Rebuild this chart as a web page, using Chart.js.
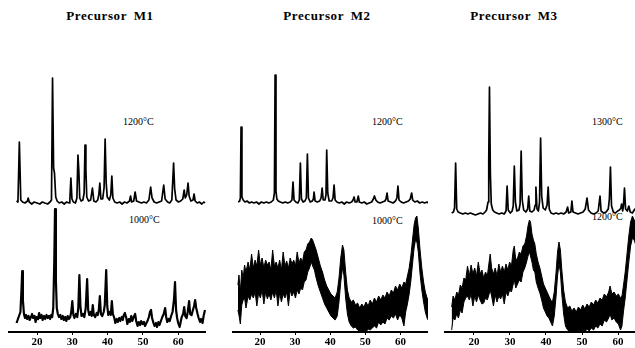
<!DOCTYPE html>
<html>
<head>
<meta charset="utf-8">
<script src="https://cdn.jsdelivr.net/npm/chart.js@4.4.0/dist/chart.umd.min.js"></script>
<style>
  body { margin: 0; background: #fff; }
  #fig { position: relative; width: 635px; height: 348px; overflow: hidden; background: #fff; }
  #fig canvas { position: absolute; top: 0; }
  .ttl { position: absolute; top: 8px; font: bold 13px "Liberation Serif", serif; letter-spacing: 0.6px; word-spacing: 3px; white-space: nowrap; transform: translateX(-50%); }
  .tmp { position: absolute; font: 10px "Liberation Serif", serif; white-space: nowrap; }
</style>
</head>
<body>
<div id="fig">
  <div class="ttl" style="left:110px">Precursor M1</div>
  <div class="ttl" style="left:327px">Precursor M2</div>
  <div class="ttl" style="left:514px">Precursor M3</div>

  <div class="tmp" style="left:123px; top:116px">1200°C</div>
  <div class="tmp" style="left:129px; top:214px">1000°C</div>
  <div class="tmp" style="left:372px; top:116px">1200°C</div>
  <div class="tmp" style="left:372px; top:215px">1000°C</div>
  <div class="tmp" style="left:592px; top:116px">1300°C</div>
  <div class="tmp" style="left:592px; top:211px">1200°C</div>

  <canvas id="m1" width="198" height="348" style="left:8px"></canvas>
  <canvas id="m2" width="196" height="348" style="left:232px"></canvas>
  <canvas id="m3" width="191" height="348" style="left:444px"></canvas>
</div>

<script>
// x-axis labels (2-theta, degrees)
const twoThetaTicks = [20, 30, 40, 50, 60];

// Crystalline patterns: [2theta, counts above baseline]
const m1At1200 = [
  [14.2,2],[14.6,1],[15.0,61],[15.4,3],[15.9,1],[16.6,0],[17.3,2],[17.5,5],[17.8,1],[18.5,-1],
  [19.2,1],[20.0,0],[20.8,-1],[21.5,1],[22.2,0],[23.0,-1],[23.7,1],[24.1,3],[24.4,125],[24.7,35],
  [24.95,30],[25.3,6],[25.7,2],[26.3,0],[27.0,1],[27.7,-1],[28.4,1],[29.1,0],[29.3,3],[29.6,25],
  [29.9,4],[30.3,1],[30.9,0],[31.3,5],[31.6,48],[31.85,32],[32.1,5],[32.5,2],[33.0,3],[33.35,10],
  [33.6,58],[33.85,33],[34.1,6],[34.6,2],[35.2,3],[35.7,15],[36.1,2],[36.7,1],[37.2,3],[37.5,8],
  [37.8,20],[38.1,4],[38.6,4],[39.0,15],[39.3,64],[39.6,20],[39.9,6],[40.5,3],[40.9,8],[41.2,27],
  [41.5,5],[42.0,1],[42.7,0],[43.4,1],[44.1,-1],[44.8,1],[45.5,0],[46.2,2],[46.5,7],[46.8,1],
  [47.4,2],[47.8,11],[48.2,2],[48.9,1],[49.6,0],[50.3,1],[51.0,0],[51.7,3],[52.2,16],[52.6,5],
  [53.2,1],[53.9,0],[54.6,1],[55.3,2],[55.9,18],[56.3,4],[57.0,1],[57.6,0],[58.2,3],[58.5,25],
  [58.7,40],[59.0,14],[59.4,3],[60.1,1],[60.7,2],[61.3,4],[61.7,13],[62.0,5],[62.4,8],[62.8,20],
  [63.1,7],[63.6,2],[64.2,3],[64.5,9],[64.8,2],[65.4,0],[66.0,1],[66.7,-1],[67.3,1],[67.6,0]
];

const m1At1000 = [
  [14.2,-3],[14.5,0],[14.9,4],[15.3,8],[15.6,30],[15.8,49],[16.0,20],[16.3,6],[16.6,2],[16.9,5],
  [17.2,1],[17.6,4],[17.9,0],[18.3,3],[18.6,6],[18.9,2],[19.3,4],[19.6,-2],[19.9,3],[20.3,1],
  [20.6,7],[20.9,2],[21.3,5],[21.6,0],[22.0,4],[22.3,1],[22.7,5],[23.0,2],[23.4,4],[23.7,1],
  [24.0,5],[24.3,3],[24.6,12],[24.9,60],[25.1,111],[25.35,40],[25.6,12],[25.9,6],[26.2,3],[26.6,5],
  [26.9,1],[27.3,4],[27.6,0],[28.0,3],[28.3,-1],[28.7,4],[29.0,1],[29.4,3],[29.7,8],[30.0,19],
  [30.3,5],[30.6,2],[31.0,6],[31.4,3],[31.7,12],[32.0,45],[32.3,14],[32.6,4],[33.0,6],[33.4,3],
  [33.8,12],[34.2,41],[34.5,10],[34.8,5],[35.2,8],[35.5,4],[35.8,15],[36.1,5],[36.5,3],[36.9,7],
  [37.2,5],[37.5,10],[37.8,24],[38.1,6],[38.5,4],[38.9,8],[39.2,15],[39.6,50],[39.9,14],[40.2,5],
  [40.6,8],[40.9,5],[41.2,19],[41.5,6],[41.9,2],[42.2,-3],[42.6,1],[42.9,-2],[43.3,2],[43.6,-1],
  [44.0,3],[44.3,0],[44.6,5],[44.9,7],[45.3,2],[45.6,-4],[46.0,1],[46.3,-2],[46.7,4],[47.0,-1],
  [47.4,3],[47.8,6],[48.1,-1],[48.5,-6],[48.8,-2],[49.2,-5],[49.5,-1],[49.9,-4],[50.3,-2],[50.6,-6],
  [51.0,-3],[51.3,-1],[51.7,3],[52.0,8],[52.3,10],[52.6,2],[53.0,-3],[53.3,-6],[53.7,-3],[54.0,-7],
  [54.4,-2],[54.7,-5],[55.1,-1],[55.5,3],[55.9,6],[56.3,12],[56.6,3],[56.9,-2],[57.3,1],[57.6,-1],
  [58.0,4],[58.4,8],[58.8,20],[59.1,38],[59.4,10],[59.7,2],[60.0,-3],[60.4,-7],[60.7,-2],[61.0,3],
  [61.4,6],[61.7,13],[62.0,4],[62.4,2],[62.7,8],[63.1,19],[63.4,6],[63.8,5],[64.1,9],[64.5,14],
  [64.8,20],[65.1,12],[65.5,6],[65.8,2],[66.2,-2],[66.5,1],[66.9,-3],[67.2,4],[67.6,10]
];

const m2At1200 = [
  [13.8,1],[14.2,2],[14.4,5],[14.6,76],[14.85,6],[15.2,3],[15.7,1],[16.3,2],[17.0,0],[17.6,1],
  [18.3,0],[19.0,1],[19.7,-1],[20.4,1],[21.1,0],[21.8,1],[22.5,0],[23.2,1],[23.8,3],[24.1,10],
  [24.3,128],[24.55,12],[24.8,4],[25.2,2],[25.8,1],[26.5,0],[27.2,1],[27.9,0],[28.6,1],[29.1,3],
  [29.4,21],[29.7,3],[30.2,1],[30.8,0],[31.2,3],[31.5,40],[31.8,4],[32.3,1],[32.8,2],[33.2,5],
  [33.5,49],[33.8,5],[34.3,1],[34.9,2],[35.2,4],[35.4,11],[35.7,2],[36.3,1],[37.0,2],[37.4,5],
  [37.7,15],[38.0,3],[38.5,3],[38.8,8],[39.0,53],[39.3,10],[39.7,2],[40.4,2],[40.8,5],[41.1,18],
  [41.4,3],[41.9,1],[42.6,0],[43.3,1],[44.0,-1],[44.7,1],[45.4,0],[46.1,1],[46.5,3],[46.8,6],
  [47.1,1],[47.6,1],[48.0,7],[48.3,1],[49.0,0],[49.7,1],[50.4,-1],[51.1,0],[51.8,1],[52.3,4],
  [52.6,7],[53.0,3],[53.5,1],[54.2,0],[54.9,1],[55.6,2],[55.9,4],[56.2,10],[56.5,2],[57.2,1],
  [57.9,0],[58.6,2],[59.0,5],[59.3,17],[59.6,3],[60.2,1],[60.9,0],[61.6,1],[62.3,2],[62.8,4],
  [63.2,10],[63.5,3],[64.1,1],[64.8,2],[65.5,0],[66.2,1],[66.9,0],[67.6,1],[68.0,0]
];

const m3At1300 = [
  [13.8,1],[14.3,2],[14.6,6],[14.9,51],[15.2,5],[15.6,2],[16.2,1],[16.9,0],[17.6,1],[18.3,0],
  [19.0,1],[19.7,0],[20.4,-1],[21.1,0],[21.8,1],[22.5,0],[23.1,2],[23.5,4],[23.9,12],[24.1,55],
  [24.3,127],[24.55,40],[24.8,10],[25.2,4],[25.7,2],[26.3,1],[27.0,0],[27.7,1],[28.4,0],[28.9,3],
  [29.2,28],[29.5,4],[30.1,1],[30.6,3],[30.9,8],[31.2,48],[31.5,12],[31.9,3],[32.5,4],[32.8,10],
  [33.1,63],[33.4,14],[33.8,4],[34.4,2],[34.9,5],[35.2,18],[35.5,3],[36.1,2],[36.7,4],[37.0,9],
  [37.2,27],[37.5,5],[37.9,3],[38.2,12],[38.5,76],[38.8,18],[39.2,6],[39.8,4],[40.3,9],[40.6,27],
  [40.9,5],[41.4,1],[42.1,0],[42.8,1],[43.5,0],[44.2,1],[44.9,0],[45.6,2],[46.0,7],[46.3,1],
  [46.9,2],[47.2,13],[47.5,2],[48.2,1],[48.9,0],[49.6,1],[50.3,2],[50.9,5],[51.4,16],[51.8,4],
  [52.5,1],[53.2,0],[53.9,1],[54.5,3],[55.0,18],[55.3,3],[56.0,1],[56.7,2],[57.3,5],[57.6,15],
  [57.9,47],[58.2,8],[58.7,2],[59.3,1],[59.9,3],[60.4,4],[60.8,6],[61.0,10],[61.3,3],[61.5,8],
  [61.8,26],[62.1,5],[62.6,3],[63.0,8],[63.4,2],[64.0,1],[64.5,4],[65.0,6]
];

// Poorly crystalline patterns, noise band: [2theta, upper, lower]
const m2At1000 = [
  [13.7,35,10],[14.0,45,5],[14.4,28,-4],[14.8,50,15],[15.2,42,20],[15.6,55,22],[16.0,48,12],[16.6,58,24],
  [17.1,50,20],[17.6,66,26],[18.1,52,22],[18.6,60,28],[19.1,54,14],[19.6,70,27],[20.1,55,22],[20.6,62,30],
  [21.1,52,16],[21.6,60,28],[22.1,55,21],[22.6,58,26],[23.1,50,20],[23.6,70,28],[24.1,54,22],[24.6,58,30],
  [25.1,52,14],[25.6,60,27],[26.1,50,18],[26.6,68,26],[27.1,54,22],[27.6,59,28],[28.1,52,14],[28.6,62,30],
  [29.1,56,24],[29.6,60,28],[30.1,54,22],[30.6,68,30],[31.1,57,26],[31.6,62,32],[32.1,58,30],[32.6,68,38],
  [33.1,70,40],[33.6,76,48],[34.1,78,52],[34.6,82,58],[35.0,80,54],[35.5,75,50],[36.0,70,42],[36.6,62,34],
  [37.2,54,28],[37.8,48,22],[38.4,40,16],[39.0,34,12],[39.6,30,8],[40.2,26,4],[40.8,24,2],[41.4,22,0],
  [42.0,28,4],[42.5,42,18],[43.0,62,38],[43.5,75,52],[43.9,70,45],[44.4,48,22],[44.9,30,6],[45.4,22,-2],
  [46.0,18,-6],[46.6,20,-8],[47.2,15,-7],[47.8,17,-10],[48.4,12,-11],[49.0,16,-13],[49.6,13,-10],[50.2,18,-12],
  [50.8,14,-9],[51.4,20,-10],[52.0,16,-8],[52.6,22,-6],[53.2,18,-8],[53.8,24,-2],[54.4,20,-5],[55.0,25,-2],
  [55.6,22,-4],[56.2,28,2],[56.8,24,0],[57.4,30,4],[58.0,27,2],[58.6,34,6],[59.2,30,0],[59.8,36,5],
  [60.4,32,2],[61.0,38,-6],[61.5,36,8],[62.0,44,16],[62.5,52,26],[63.0,65,40],[63.5,82,58],[63.9,95,72],
  [64.3,102,80],[64.7,104,78],[65.1,92,68],[65.6,70,46],[66.1,52,30],[66.6,38,18],[67.1,28,8],[67.6,22,2],
  [67.9,20,0]
];

const m3At1200 = [
  [13.8,13,-10],[14.2,24,2],[14.7,20,0],[15.2,28,6],[15.7,25,2],[16.2,35,10],[16.7,32,7],[17.2,42,18],
  [17.7,40,22],[18.2,54,24],[18.7,44,20],[19.2,55,26],[19.7,46,14],[20.2,52,24],[20.7,44,18],[21.2,58,25],
  [21.7,46,20],[22.2,50,16],[22.7,42,17],[23.2,48,22],[23.7,44,20],[24.2,58,26],[24.5,66,30],[24.9,52,24],
  [25.4,46,14],[25.9,52,25],[26.4,44,18],[26.9,56,24],[27.4,48,21],[27.9,54,26],[28.4,48,16],[28.9,56,28],
  [29.4,50,24],[29.9,58,30],[30.4,54,28],[30.9,70,36],[31.2,74,40],[31.6,60,32],[32.1,62,36],[32.6,68,40],
  [33.1,66,38],[33.6,74,48],[34.1,76,52],[34.6,84,58],[35.0,94,64],[35.4,100,68],[35.7,98,64],[36.1,86,58],
  [36.5,80,50],[36.9,76,48],[37.3,66,38],[37.8,58,32],[38.3,52,27],[38.8,44,20],[39.3,36,12],[39.8,32,8],
  [40.3,28,4],[40.8,24,2],[41.3,20,-2],[41.8,18,-6],[42.3,28,4],[42.8,48,24],[43.2,68,44],[43.6,78,56],
  [44.0,70,48],[44.4,50,26],[44.9,30,6],[45.4,18,-6],[46.0,12,-10],[46.6,14,-12],[47.2,9,-13],[47.8,12,-11],
  [48.4,8,-13],[49.0,13,-10],[49.6,10,-13],[50.2,15,-10],[50.8,11,-12],[51.4,16,-9],[52.0,13,-11],[52.6,18,-8],
  [53.2,15,-10],[53.8,20,-6],[54.4,17,-8],[55.0,22,-4],[55.6,20,-6],[56.2,26,0],[56.8,23,-2],[57.4,28,2],
  [57.8,34,6],[58.3,26,0],[58.9,28,2],[59.5,24,-2],[60.1,26,-4],[60.7,22,-10],[61.1,24,-6],[61.5,34,8],
  [62.0,48,22],[62.5,66,40],[63.0,84,58],[63.5,98,74],[64.0,104,82],[64.5,100,80],[65.0,96,74]
];

function trace(points, axis, width) {
  return {
    data: points.map(p => ({ x: p[0], y: p[1] })),
    yAxisID: axis,
    borderColor: '#000',
    borderWidth: width,
    borderJoinStyle: 'round',
    pointRadius: 0,
    tension: 0,
    fill: false
  };
}

// upper edge filled down to the lower edge
function band(points, axis) {
  const common = { yAxisID: axis, borderColor: '#000', borderWidth: 1, pointRadius: 0, tension: 0 };
  return [
    Object.assign({ data: points.map(p => ({ x: p[0], y: p[1] })), fill: '+1', backgroundColor: '#000' }, common),
    Object.assign({ data: points.map(p => ({ x: p[0], y: p[2] })), fill: false }, common)
  ];
}

function makePanel(id, xRange, topRange, botRange, datasets) {
  new Chart(document.getElementById(id), {
    type: 'line',
    data: { datasets: datasets },
    options: {
      responsive: false,
      animation: false,
      layout: { padding: 0 },
      plugins: { legend: { display: false }, tooltip: { enabled: false } },
      scales: {
        x: {
          type: 'linear',
          min: xRange[0],
          max: xRange[1],
          afterBuildTicks: s => { s.ticks = twoThetaTicks.map(v => ({ value: v })); },
          afterFit: s => { s.height = 16; },
          grid: { drawOnChartArea: false, drawTicks: true, tickLength: 3, color: '#000' },
          border: { color: '#000', width: 2 },
          ticks: {
            color: '#000', padding: 1, maxRotation: 0, autoSkip: false,
            font: { family: '"Liberation Serif", serif', size: 11, weight: 'bold' }
          }
        },
        yTop: { display: false, min: topRange[0], max: topRange[1] },
        yBot: { display: false, min: botRange[0], max: botRange[1] }
      }
    }
  });
}

makePanel('m1', [11.78, 67.88], [-129, 203], [-12, 320],
  [trace(m1At1200, 'yTop', 1.7), trace(m1At1000, 'yBot', 2.2)]);

makePanel('m2', [12.02, 67.86], [-129, 203], [-12, 320],
  [trace(m2At1200, 'yTop', 1.7)].concat(band(m2At1000, 'yBot')));

makePanel('m3', [11.67, 64.72], [-118, 214], [-12, 320],
  [trace(m3At1300, 'yTop', 1.7)].concat(band(m3At1200, 'yBot')));
</script>
</body>
</html>
